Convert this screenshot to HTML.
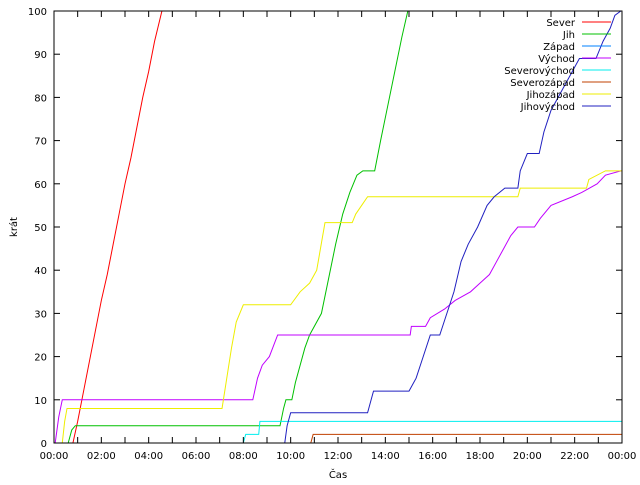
<!DOCTYPE html>
<html><head><meta charset="utf-8"><style>
body{margin:0;background:#fff}
svg text{font-family:"DejaVu Sans","Liberation Sans",sans-serif;font-size:10px;fill:#000}
</style></head><body>
<svg id="chart" width="640" height="480" xmlns="http://www.w3.org/2000/svg">
<rect width="640" height="480" fill="#fff"/>
<g id="plot"></g>
<rect x="54" y="11" width="568" height="432" fill="none" stroke="#000" stroke-width="1"/>
<g id="axes"></g>
<text x="338" y="478" text-anchor="middle">Čas</text>
<text transform="translate(17,227) rotate(-90)" text-anchor="middle">krát</text>
<g id="legend"></g>
</svg>
<script>
const seriesNames=["Sever","Jih","Západ","Východ","Severovýchod","Severozápad","Jihozápad","Jihovýchod"];
const seriesColors=["#ff0000","#00c000","#0080ff","#c000ff","#00eeee","#c04000","#eeee00","#2020c0"];
const xTickLabels=["00:00","02:00","04:00","06:00","08:00","10:00","12:00","14:00","16:00","18:00","20:00","22:00","00:00"];
const yTickValues=[0,10,20,30,40,50,60,70,80,90,100];
const severT=[0.8,1.0,1.25,1.5,1.75,2.0,2.25,2.5,2.75,3.0,3.25,3.5,3.75,4.0,4.25,4.56];
const severV=[0,5,12,19,26,33,39,46,53,60,66,73,80,86,93,100];
const jihT=[0.6,0.75,0.9,9.55,9.7,9.8,10.05,10.2,10.4,10.6,10.8,11.3,11.6,11.9,12.2,12.5,12.8,13.05,13.55,13.8,14.1,14.4,14.7,14.95];
const jihV=[0,3,4,4,8,10,10,14,18,22,25,30,38,46,53,58,62,63,63,70,78,86,94,100];
const zapadT=[];
const zapadV=[];
const vychodT=[0.05,0.2,0.35,8.4,8.6,8.8,9.1,9.45,15.05,15.1,15.7,15.9,16.5,16.95,17.6,18.0,18.4,18.7,19.0,19.3,19.6,20.3,20.55,21.0,21.9,22.3,22.95,23.3,23.95];
const vychodV=[0,6,10,10,15,18,20,25,25,27,27,29,31,33,35,37,39,42,45,48,50,50,52,55,57,58,60,62,63];
const severovychodT=[8.0,8.1,8.65,8.7];
const severovychodV=[0,2,2,5];
const severozapadT=[10.85,10.95];
const severozapadV=[0,2];
const jihozapadT=[0.35,0.45,0.55,7.1,7.3,7.5,7.7,8.0,10.0,10.4,10.8,11.1,11.45,12.6,12.75,13.25,19.6,19.7,22.5,22.6,23.3,23.95];
const jihozapadV=[0,5,8,8,15,22,28,32,32,35,37,40,51,51,53,57,57,59,59,61,63,63];
const jihovychodT=[9.75,9.85,10.0,13.25,13.4,13.5,15.0,15.3,15.6,15.9,16.3,16.6,16.9,17.2,17.5,17.9,18.3,18.6,19.05,19.6,19.7,20.0,20.5,20.7,21.0,21.5,21.9,22.2,22.9,23.2,23.5,23.7,23.95];
const jihovychodV=[0,4,7,7,10,12,12,15,20,25,25,30,35,42,46,50,55,57,59,59,63,67,67,72,77,82,86,89,89,93,96,99,100];
const allT=[severT,jihT,zapadT,vychodT,severovychodT,severozapadT,jihozapadT,jihovychodT];
const allV=[severV,jihV,zapadV,vychodV,severovychodV,severozapadV,jihozapadV,jihovychodV];

const X0=54,X1=622,Y0=443,Y1=11;
const xs=t=>X0+t/24*(X1-X0);
const ys=v=>Y0-v/100*(Y0-Y1);
const NS="http://www.w3.org/2000/svg";
function mk(tag,attrs,parent){const e=document.createElementNS(NS,tag);for(const k in attrs)e.setAttribute(k,attrs[k]);parent.appendChild(e);return e;}
const axes=document.getElementById('axes');
for(let h=0;h<=24;h++){
  const x=xs(h);
  const l1=mk('line',{x1:x,x2:x,y1:Y0,y2:Y0-6,stroke:'#000'},axes);
  
  
  const l2=mk('line',{x1:x,x2:x,y1:Y1,y2:Y1+6,stroke:'#000'},axes);
  
  
}
xTickLabels.forEach((s,i)=>{
  const t=mk('text',{x:xs(i*2),y:459,'text-anchor':'middle'},axes);t.textContent=s;
  
  
});
yTickValues.forEach(v=>{
  const y=ys(v);
  const l1=mk('line',{x1:X0,x2:X0+6,y1:y,y2:y,stroke:'#000'},axes);
  
  
  const l2=mk('line',{x1:X1,x2:X1-6,y1:y,y2:y,stroke:'#000'},axes);
  
  
  const t=mk('text',{x:47,y:y+4,'text-anchor':'end'},axes);t.textContent=v;
  
  
});
const plot=document.getElementById('plot');
allT.forEach((T,i)=>{
  const V=allV[i];if(!T.length)return;
  let d='M'+xs(T[0])+','+ys(V[0]);
  for(let k=1;k<T.length;k++){d+=' L'+xs(T[k])+','+ys(V[k]);}
  if(V[V.length-1]<100) d+=' L'+X1+','+ys(V[V.length-1]);
  const p=mk('path',{d:d,fill:'none',stroke:seriesColors[i],'stroke-width':1},plot);
  
  
});
const lg=document.getElementById('legend');
seriesNames.forEach((n,i)=>{
  const y=22+i*12;
  const t=mk('text',{x:575,y:y+4,'text-anchor':'end'},lg);t.textContent=n;
  
  
  const l=mk('line',{x1:582,x2:611,y1:y,y2:y,stroke:seriesColors[i],'stroke-width':1},lg);
  
  
});
</script>
</body></html>
